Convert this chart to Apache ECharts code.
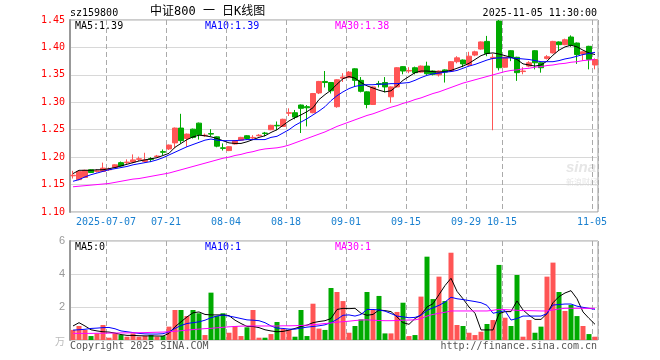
<!DOCTYPE html>
<html>
<head>
<meta charset="utf-8">
<script src="https://cdn.jsdelivr.net/npm/echarts@6/dist/echarts.min.js"></script>
<style>html,body{margin:0;padding:0;background:#fff}#c{width:660px;height:360px}</style>
</head>
<body>
<div id="c"></div>
<script>
// ---- data ----
const dates = ['2025-06-27','2025-06-30','2025-07-01','2025-07-02','2025-07-03','2025-07-04',
'2025-07-07','2025-07-08','2025-07-09','2025-07-10','2025-07-11','2025-07-14','2025-07-15','2025-07-16','2025-07-17','2025-07-18',
'2025-07-21','2025-07-22','2025-07-23','2025-07-24','2025-07-25','2025-07-28','2025-07-29','2025-07-30','2025-07-31','2025-08-01',
'2025-08-04','2025-08-05','2025-08-06','2025-08-07','2025-08-08','2025-08-11','2025-08-12','2025-08-13','2025-08-14','2025-08-15',
'2025-08-18','2025-08-19','2025-08-20','2025-08-21','2025-08-22','2025-08-25','2025-08-26','2025-08-27','2025-08-28','2025-08-29',
'2025-09-01','2025-09-02','2025-09-03','2025-09-04','2025-09-05','2025-09-08','2025-09-09','2025-09-10','2025-09-11','2025-09-12',
'2025-09-15','2025-09-16','2025-09-17','2025-09-18','2025-09-19','2025-09-22','2025-09-23','2025-09-24','2025-09-25','2025-09-26',
'2025-09-29','2025-09-30','2025-10-09','2025-10-10','2025-10-13','2025-10-14','2025-10-15','2025-10-16','2025-10-17','2025-10-20',
'2025-10-21','2025-10-22','2025-10-23','2025-10-24','2025-10-27','2025-10-28','2025-10-29','2025-10-30','2025-10-31','2025-11-03',
'2025-11-04','2025-11-05'];

// [open, close, low, high]
const ohlc = [
[1.166,1.167,1.161,1.175],[1.159,1.174,1.158,1.175],[1.163,1.176,1.162,1.177],[1.177,1.172,1.171,1.178],[1.174,1.175,1.172,1.178],
[1.174,1.180,1.173,1.190],[1.177,1.178,1.175,1.181],[1.181,1.186,1.180,1.187],[1.190,1.184,1.183,1.192],[1.190,1.191,1.187,1.196],
[1.191,1.195,1.189,1.205],[1.196,1.197,1.193,1.201],[1.192,1.195,1.190,1.208],[1.197,1.196,1.191,1.200],[1.201,1.202,1.200,1.204],
[1.210,1.209,1.204,1.214],[1.215,1.222,1.213,1.223],[1.226,1.253,1.216,1.254],[1.253,1.230,1.225,1.279],[1.234,1.242,1.219,1.243],
[1.251,1.236,1.234,1.252],[1.262,1.241,1.232,1.263],[1.239,1.240,1.237,1.243],[1.243,1.242,1.238,1.251],[1.237,1.220,1.218,1.238],
[1.217,1.216,1.212,1.225],[1.212,1.219,1.211,1.220],[1.224,1.230,1.223,1.231],[1.231,1.236,1.230,1.237],[1.239,1.234,1.232,1.240],
[1.235,1.236,1.233,1.240],[1.239,1.240,1.238,1.242],[1.244,1.243,1.238,1.246],[1.250,1.258,1.249,1.259],[1.258,1.257,1.249,1.265],
[1.256,1.269,1.255,1.270],[1.280,1.281,1.275,1.289],[1.281,1.273,1.269,1.286],[1.295,1.289,1.244,1.296],[1.292,1.290,1.256,1.295],
[1.281,1.316,1.280,1.317],[1.317,1.338,1.315,1.339],[1.338,1.336,1.327,1.357],[1.336,1.321,1.316,1.337],[1.292,1.341,1.290,1.342],
[1.344,1.346,1.337,1.353],[1.345,1.355,1.344,1.357],[1.361,1.340,1.328,1.362],[1.340,1.320,1.318,1.346],[1.319,1.296,1.289,1.320],
[1.296,1.328,1.295,1.329],[1.334,1.333,1.327,1.339],[1.336,1.328,1.318,1.346],[1.310,1.328,1.299,1.329],[1.328,1.363,1.327,1.364],
[1.365,1.357,1.351,1.366],[1.357,1.358,1.353,1.364],[1.363,1.354,1.351,1.365],[1.355,1.366,1.354,1.367],[1.366,1.352,1.350,1.374],
[1.357,1.351,1.349,1.358],[1.350,1.357,1.347,1.358],[1.359,1.355,1.336,1.360],[1.357,1.374,1.356,1.375],[1.374,1.381,1.371,1.384],
[1.377,1.370,1.364,1.378],[1.368,1.384,1.366,1.392],[1.386,1.392,1.384,1.394],[1.397,1.410,1.396,1.411],[1.411,1.389,1.384,1.421],
[1.380,1.382,1.249,1.388],[1.448,1.363,1.358,1.450],[1.364,1.382,1.363,1.383],[1.394,1.382,1.375,1.395],[1.382,1.354,1.339,1.383],
[1.356,1.357,1.351,1.364],[1.366,1.372,1.364,1.375],[1.394,1.372,1.360,1.395],[1.372,1.363,1.354,1.373],[1.380,1.383,1.378,1.386],
[1.390,1.411,1.389,1.412],[1.410,1.405,1.394,1.411],[1.405,1.414,1.404,1.416],[1.419,1.404,1.401,1.422],[1.408,1.387,1.370,1.409],
[1.388,1.392,1.376,1.393],[1.402,1.378,1.360,1.403],[1.368,1.378,1.360,1.380]];

const ma5 = [1.170,1.176,1.176,1.176,1.177,1.177,1.179,1.181,1.184,1.187,1.190,1.193,1.195,1.197,1.199,1.203,1.207,1.218,1.225,1.232,
1.237,1.240,1.239,1.237,1.234,1.230,1.226,1.225,1.225,1.228,1.232,1.236,1.239,1.245,1.250,1.258,1.266,1.272,1.277,1.283,
1.290,1.305,1.314,1.322,1.333,1.343,1.347,1.344,1.336,1.330,1.326,1.322,1.319,1.321,1.330,1.340,1.347,1.354,1.357,1.357,
1.356,1.355,1.356,1.358,1.362,1.366,1.371,1.378,1.385,1.389,1.390,1.388,1.385,1.382,1.378,1.370,1.368,1.366,1.368,1.375,
1.386,1.395,1.401,1.404,1.401,1.395,1.390,1.387];
const ma10 = [1.156,1.159,1.164,1.168,1.171,1.174,1.177,1.179,1.181,1.183,1.186,1.188,1.190,1.192,1.195,1.199,1.204,1.209,1.214,1.219,
1.223,1.227,1.231,1.233,1.231,1.230,1.230,1.230,1.231,1.232,1.232,1.232,1.232,1.236,1.238,1.244,1.250,1.258,1.264,1.270,
1.277,1.284,1.292,1.303,1.312,1.319,1.325,1.329,1.331,1.332,1.332,1.333,1.333,1.334,1.334,1.335,1.336,1.340,1.345,1.349,
1.352,1.353,1.355,1.356,1.358,1.362,1.366,1.369,1.373,1.377,1.380,1.381,1.381,1.381,1.380,1.379,1.378,1.376,1.374,1.374,
1.374,1.376,1.379,1.381,1.384,1.387,1.389,1.391];
const ma30 = [1.146,1.147,1.148,1.149,1.150,1.151,1.152,1.154,1.156,1.158,1.160,1.161,1.163,1.165,1.167,1.169,1.171,1.174,1.177,1.180,
1.183,1.186,1.189,1.192,1.195,1.198,1.200,1.203,1.205,1.208,1.210,1.213,1.215,1.216,1.217,1.219,1.222,1.226,1.230,1.234,
1.238,1.242,1.246,1.251,1.256,1.260,1.264,1.268,1.272,1.276,1.279,1.283,1.287,1.291,1.294,1.298,1.301,1.305,1.308,1.312,
1.316,1.319,1.323,1.327,1.331,1.335,1.338,1.341,1.344,1.347,1.350,1.353,1.356,1.358,1.359,1.361,1.362,1.364,1.365,1.367,
1.368,1.370,1.371,1.373,1.374,1.376,1.377,1.378];

const volume = [0.61,0.85,0.61,0.24,0.40,0.91,0.14,0.40,0.30,0.20,0.40,0.20,0.24,0.30,0.20,0.24,0.81,1.82,1.82,1.45,
1.82,1.62,0.30,2.87,1.45,1.62,0.44,0.85,0.24,0.77,1.82,0.14,0.14,0.36,1.09,0.67,0.61,0.20,1.82,0.24,
2.20,0.69,0.61,3.15,2.91,2.36,0.44,0.85,1.25,2.91,1.82,2.67,0.40,0.40,1.70,2.26,0.24,0.30,2.63,5.05,
2.48,3.84,2.36,5.29,0.91,0.85,0.44,0.30,0.50,0.97,1.21,4.55,1.35,0.85,3.94,0.20,1.21,0.44,0.81,3.84,
4.69,2.91,1.76,2.12,1.45,0.85,0.36,0.20];
const volMa5 = [0.85,1.05,0.85,0.62,0.55,0.50,0.48,0.42,0.33,0.28,0.28,0.26,0.25,0.25,0.24,0.24,0.40,0.80,1.10,1.40,
1.65,1.70,1.55,1.52,1.52,1.52,1.48,1.20,1.00,0.82,0.82,0.75,0.62,0.55,0.50,0.52,0.60,0.70,0.82,0.90,
1.05,1.12,1.17,1.30,1.85,1.92,1.90,1.92,1.62,1.50,1.55,1.82,1.78,1.72,1.40,1.05,0.95,1.30,1.52,2.00,
2.20,2.75,3.30,3.74,2.95,2.50,2.00,1.62,0.61,0.61,0.61,1.60,1.72,1.72,2.37,1.82,1.50,1.25,1.25,1.60,
2.26,2.63,2.85,2.99,2.50,1.70,1.31,0.95];
const volMa10 = [0.60,0.62,0.65,0.70,0.72,0.75,0.76,0.68,0.55,0.50,0.45,0.40,0.37,0.36,0.36,0.38,0.50,0.70,0.88,1.00,
1.05,1.10,1.20,1.35,1.45,1.52,1.45,1.38,1.30,1.22,1.20,1.17,1.05,0.85,0.72,0.70,0.66,0.66,0.72,0.78,
0.82,0.86,0.92,1.05,1.25,1.50,1.52,1.45,1.55,1.85,1.85,1.82,1.75,1.60,1.45,1.40,1.35,1.37,1.50,1.80,
1.95,2.10,2.30,2.59,2.50,2.45,2.39,2.33,2.26,2.10,1.62,1.70,1.78,1.21,1.30,1.45,1.45,1.45,1.45,1.60,
2.12,2.15,2.18,2.18,2.05,1.98,1.92,1.86];
const volMa30 = [0.40,0.40,0.40,0.40,0.41,0.41,0.42,0.42,0.43,0.43,0.44,0.44,0.45,0.46,0.47,0.48,0.50,0.53,0.56,0.60,
0.63,0.66,0.69,0.71,0.74,0.77,0.80,0.82,0.84,0.85,0.85,0.85,0.85,0.85,0.85,0.86,0.86,0.87,0.88,0.90,
0.93,0.96,1.00,1.03,1.08,1.11,1.14,1.18,1.21,1.22,1.20,1.18,1.17,1.17,1.18,1.20,1.21,1.22,1.30,1.45,
1.55,1.62,1.68,1.76,1.76,1.76,1.76,1.76,1.76,1.76,1.80,1.86,1.84,1.82,1.80,1.78,1.78,1.77,1.76,1.76,
1.82,1.88,1.92,1.92,1.92,1.92,1.92,1.92];

const labelIdx = [6,16,26,36,46,56,66,72,87];
const priceTicks = {min:1.10, max:1.45, interval:0.05};
const volTicks = {min:0, max:6, interval:2};

// ---- chart ----
const UP = '#ff5555', DOWN = '#00aa00';
const MONO = 'DejaVu Sans Mono, Liberation Mono, monospace';
const chart = echarts.init(document.getElementById('c'), null, {renderer:'canvas'});
const showIdx = (i) => labelIdx.indexOf(i) >= 0;
const dashV = {show:true, interval:showIdx, lineStyle:{color:'#aaaaaa', width:1, type:[5,3]}};
const gridH = {show:true, lineStyle:{color:'#d8d8d8', width:1, type:'solid'}};

const volData = volume.map((v,i)=>({value:v, itemStyle:{color: ohlc[i][1] >= ohlc[i][0] ? UP : DOWN}}));
const lineS = (name, data, color, xi, yi) => ({name, type:'line', data, xAxisIndex:xi, yAxisIndex:yi,
  symbol:'none', smooth:false, lineStyle:{color, width:1}, itemStyle:{color}, silent:true, z:3});

const txt = (text, x, y, fill, align, font) => ({type:'text', x, y, silent:true,
  style:{text, fill, font: font || ('10px ' + MONO), textAlign: align || 'left', textVerticalAlign:'middle', verticalAlign:'middle'}});

chart.setOption({
  animation:false,
  backgroundColor:'#ffffff',
  grid:[
    {left:70, right:62, top:20, height:192, show:true, borderColor:'#999999', borderWidth:1},
    {left:70, right:62, top:241, height:99, show:true, borderColor:'#999999', borderWidth:1}
  ],
  xAxis:[
    {type:'category', gridIndex:0, data:dates, boundaryGap:true,
     axisLine:{show:false}, axisTick:{show:false},
     axisLabel:{interval:showIdx, color:'#1a80d0', fontSize:10, fontFamily:MONO, margin:5, padding:[0,6,0,0],
       formatter:(v,i)=> i===6 ? v : v.slice(5)},
     splitLine:dashV},
    {type:'category', gridIndex:1, data:dates, boundaryGap:true,
     axisLine:{show:false}, axisTick:{show:false}, axisLabel:{show:false}, splitLine:dashV}
  ],
  yAxis:[
    {type:'value', gridIndex:0, min:priceTicks.min, max:priceTicks.max, interval:priceTicks.interval,
     axisLine:{show:true, lineStyle:{color:'#999999', width:2}},
     axisLabel:{color:'#ff0000', fontSize:10, fontFamily:MONO, margin:5, formatter:(v)=>v.toFixed(2)},
     splitLine:gridH},
    {type:'value', gridIndex:1, min:volTicks.min, max:volTicks.max, interval:volTicks.interval,
     axisLine:{show:true, lineStyle:{color:'#999999', width:2}},
     axisLabel:{color:'#999999', fontSize:11, fontFamily:'Liberation Sans, Arial, sans-serif', margin:5,
       formatter:(v)=> v===0 ? '' : String(v)},
     splitLine:gridH}
  ],
  series:[
    {name:'K', type:'candlestick', xAxisIndex:0, yAxisIndex:0, data:ohlc, barWidth:5, silent:true,
     itemStyle:{color:UP, color0:DOWN, borderColor:UP, borderColor0:DOWN, borderWidth:1}},
    lineS('MA5', ma5, '#000000', 0, 0),
    lineS('MA10', ma10, '#0000ff', 0, 0),
    lineS('MA30', ma30, '#ff00ff', 0, 0),
    {name:'VOL', type:'bar', xAxisIndex:1, yAxisIndex:1, data:volData, barWidth:5, silent:true},
    lineS('VMA5', volMa5, '#000000', 1, 1),
    lineS('VMA10', volMa10, '#0000ff', 1, 1),
    lineS('VMA30', volMa30, '#ff00ff', 1, 1)
  ],
  graphic:[
    {type:'text', x:566, y:160, z:-1, silent:true,
     style:{text:'sina', fill:'#e6e6e6', font:'italic bold 15px Liberation Sans, sans-serif', textAlign:'left', verticalAlign:'top'}},
    {type:'text', x:566, y:178, z:-1, silent:true,
     style:{text:'新浪财经', fill:'#e6e6e6', font:'8px Noto Sans CJK SC, sans-serif', textAlign:'left', verticalAlign:'top'}},
    txt('sz159800', 70, 13, '#000000'),
    txt('中证800 一 日K线图', 150, 12, '#000000', 'left', '12px DejaVu Sans Mono, Noto Sans CJK SC, sans-serif'),
    txt('2025-11-05 11:30:00', 597, 13, '#000000', 'right'),
    txt('MA5:1.39', 75, 26, '#000000'),
    txt('MA10:1.39', 205, 26, '#0000ff'),
    txt('MA30:1.38', 335, 26, '#ff00ff'),
    txt('MA5:0', 75, 247, '#000000'),
    txt('MA10:1', 205, 247, '#0000ff'),
    txt('MA30:1', 335, 247, '#ff00ff'),
    txt('万', 65, 341, '#bbbbbb', 'right', '10px Noto Sans CJK SC, sans-serif'),
    txt('Copyright 2025 SINA.COM', 70, 346, '#555555'),
    txt('http://finance.sina.com.cn', 597, 346, '#555555', 'right')
  ]
});
</script>
</body>
</html>
